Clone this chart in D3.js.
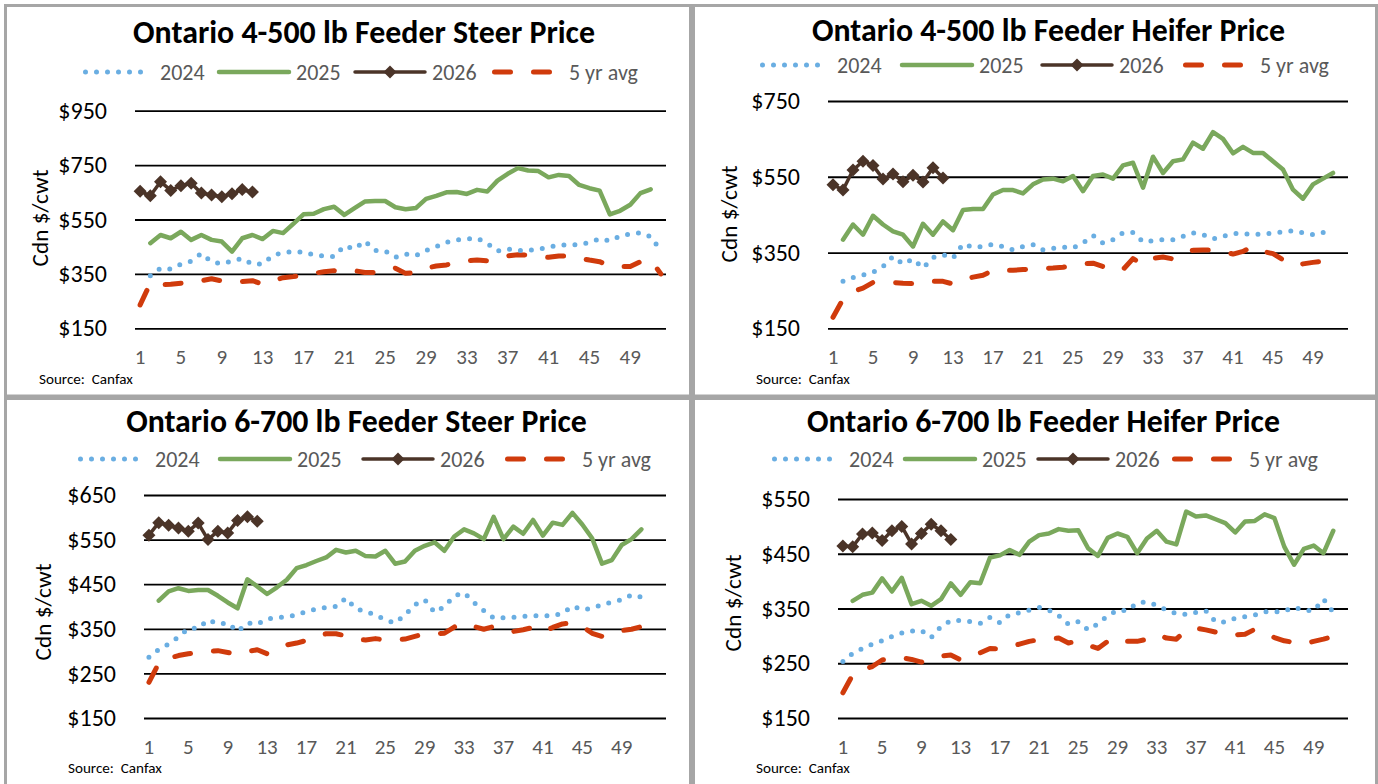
<!DOCTYPE html>
<html>
<head>
<meta charset="utf-8" />
<title>Ontario feeder cattle prices</title>
<style>
html, body {
    margin: 0;
    padding: 0;
    background: #fff;
}
svg text {
    font-family: Carlito, Calibri, Lato, "Open Sans", sans-serif;
}
</style>
</head>
<body>
<div id="chart"></div>

<script src="https://cdnjs.cloudflare.com/ajax/libs/d3/7.8.5/d3.min.js"></script>
<script>
// week categories and tick labels
var weeks52 = d3.range(1, 53)
var weeks53 = d3.range(1, 54)
var xTickLabels = [1, 5, 9, 13, 17, 21, 25, 29, 33, 37, 41, 45, 49]
var seriesNames = ["2024", "2025", "2026", "5 yr avg"]

// Ontario 4-500 lb feeder steer
var yTicksSteer45 = [150, 350, 550, 750, 950]
var steer45_2024 = [null, 343,371,368,386,397,425,394,388,397,407,386,387,418,428,432,430,420,416,414,453,442,471,436,434,411,423,417,436,450,466,475,478,481,462,434,442,436,436,441,448,456,457,458,465,479,471,489,497,501,487,436]
var steer45_2025 = [null, 463,493,481,505,475,493,475,469,432,481,493,478,508,500,534,569,571,588,597,567,592,616,618,618,595,588,592,626,637,650,651,644,659,653,693,718,739,730,728,705,714,710,677,665,656,569,582,604,647,661, null]
var steer45_2026 = [654,637,689,657,674,683,647,640,634,645,660,651]
var steer45_avg = [236,316,310,312,316,319,325,332,324,322,322,325,312,325,336,340,346,352,358,362,358,362,355,355,357,371,352,355,371,379,383,392,398,401,398,408,416,420,419,414,411,416,416,408,401,395,379,377,377,395,401,350]

// Ontario 4-500 lb feeder heifer
var yTicksHeifer45 = [150, 350, 550, 750]
var heifer45_2024 = [null, 274,284,291,298,313,340,320,333,309,337,344,335,373,364,366,372,366,357,366,371,357,361,364,362,375,395,375,384,402,403,378,381,384,384,393,402,397,386,393,400,400,398,399,401,405,407,402,397,403,399, null]
var heifer45_2025 = [null, 384,424,397,447,424,406,397,366,426,397,432,409,462,465,465,503,515,515,506,530,543,545,538,552,512,552,556,545,580,587,521,603,560,591,596,640,624,668,650,612,629,613,613,591,569,516,492,530,545,560, null]
var heifer45_2026 = [529,515,568,591,580,544,557,537,554,536,574,547]
var heifer45_avg = [179,227,247,256,271,271,271,269,268,269,274,274,267,278,285,290,303,303,303,305,307,308,309,311,316,320,322,313,303,305,334,318,335,338,333,347,356,357,356,353,346,353,366,353,347,331,316,320,324,327,315, null]

// Ontario 6-700 lb feeder steer
var yTicksSteer67 = [150, 250, 350, 450, 550, 650]
var steer67_2024 = [286,304,316,332,351,351,370,361,363,344,363,360,372,375,377,381,389,394,398,400,419,395,389,381,370,363,381,404,415,387,400,424,431,409,391,374,375,376,378,379,379,379,385,401,393,396,404,410,415,426,421]
var steer67_2025 = [null, 413,434,441,435,437,437,424,409,396,461,445,428,443,460,486,493,502,510,527,521,525,513,512,525,496,501,525,536,544,525,557,573,564,551,601,551,579,563,594,559,588,583,610,584,553,496,504,538,551,573]
var steer67_2026 = [560,588,582,576,569,587,550,569,565,593,601,591]
var steer67_avg = [230,273,284,290,294,297,299,301,297,293,299,303,294,304,314,318,324,333,339,339,334,327,325,328,325,325,327,333,339,339,340,354,363,355,349,355,348,344,348,353,343,353,361,363,355,340,333,339,346,349,355,316]

// Ontario 6-700 lb feeder heifer
var yTicksHeifer67 = [150, 250, 350, 450, 550]
var heifer67_2024 = [253,268,277,285,291,299,305,309,310,297,317,328,328,326,323,334,324,339,342,347,352,347,337,321,326,311,322,337,347,346,360,362,356,347,341,339,343,346,326,325,332,335,338,344,344,345,352,347,346,367,343]
var heifer67_2025 = [null, 364,375,379,405,381,406,358,364,355,367,396,375,398,396,443,447,457,448,472,484,487,495,492,493,460,446,479,487,481,451,478,492,472,467,527,518,520,513,506,489,509,510,522,515,463,430,459,465,451,492]
var heifer67_2026 = [464,463,486,488,474,492,500,468,487,504,492,476]
var heifer67_avg = [196,229,238,244,256,259,260,257,252,258,263,265,256,262,269,277,276,280,285,290,293,294,296,287,291,283,277,290,297,290,290,294,303,296,294,311,314,311,307,301,302,303,312,305,297,291,288,285,290,294,299,279]

var colors = { y2024: "#6aaee2", y2025: "#7aa85c", y2026: "#4b3428", avg: "#d03b0c" }

var panels = [
    { title: "Ontario 4-500 lb Feeder Steer Price", cats: weeks52, yTicks: yTicksSteer45,
      series: [steer45_2024, steer45_2025, steer45_2026, steer45_avg],
      box: [5.5, 5.5, 685, 390.5], plot: { x0: 135, x1: 666, top: 110.7, bottom: 328.3 },
      titleX: 364, titleY: 43, titleW: 462, legendX: 83, legendY: 72, legendSteps: [0, 136, 272, 409],
      yTitleX: 40, yTitleY: 218, sourceX: 39, sourceY: 384 },
    { title: "Ontario 4-500 lb Feeder Heifer Price", cats: weeks52, yTicks: yTicksHeifer45,
      series: [heifer45_2024, heifer45_2025, heifer45_2026, heifer45_avg],
      box: [693.5, 5.5, 683, 390.5], plot: { x0: 828, x1: 1348, top: 101, bottom: 328.3 },
      titleX: 1048.5, titleY: 41, titleW: 473, legendX: 760, legendY: 65, legendSteps: [0, 142, 282, 423],
      yTitleX: 729, yTitleY: 214, sourceX: 756, sourceY: 384 },
    { title: "Ontario 6-700 lb Feeder Steer Price", cats: weeks53, yTicks: yTicksSteer67,
      series: [steer67_2024, steer67_2025, steer67_2026, steer67_avg],
      box: [5.5, 398.5, 685, 400], plot: { x0: 144, x1: 666, top: 495, bottom: 718 },
      titleX: 356.5, titleY: 432, titleW: 461, legendX: 78, legendY: 459, legendSteps: [0, 142, 285, 427],
      yTitleX: 43, yTitleY: 612, sourceX: 68, sourceY: 773 },
    { title: "Ontario 6-700 lb Feeder Heifer Price", cats: weeks52, yTicks: yTicksHeifer67,
      series: [heifer67_2024, heifer67_2025, heifer67_2026, heifer67_avg],
      box: [693.5, 398.5, 683, 400], plot: { x0: 838, x1: 1348, top: 499, bottom: 718 },
      titleX: 1043.5, titleY: 432, titleW: 473, legendX: 772, legendY: 459, legendSteps: [0, 133, 266, 400],
      yTitleX: 733, yTitleY: 603, sourceX: 756, sourceY: 773 }
]

var seriesStyle = [
    { color: colors.y2024, width: 5, dash: "0 11", cap: "round", legendLen: 65 },
    { color: colors.y2025, width: 4.5, dash: null, cap: "round", legendLen: 70 },
    { color: colors.y2026, width: 3.5, dash: null, cap: "round", legendLen: 70, marker: true },
    { color: colors.avg, width: 5, dash: "16 23", cap: "round", legendLen: 63 }
]
// 5 yr avg first, then 2024, 2025, 2026 on top
var drawOrder = [3, 0, 1, 2]

var svg = d3.select("#chart").append("svg")
    .attr("width", 1378)
    .attr("height", 784)

function diamond(r) {
    return "M0," + (-r) + "L" + r + ",0L0," + r + "L" + (-r) + ",0Z"
}

function fitWidth(text, size, target) {
    text.style("font-size", size + "px")
    var len = text.node().getComputedTextLength()
    text.style("font-size", (size * target / len) + "px")
}

panels.forEach(function(p) {
    var g = svg.append("g")

    g.append("rect")
        .attr("x", p.box[0]).attr("y", p.box[1])
        .attr("width", p.box[2]).attr("height", p.box[3])
        .attr("fill", "#fff")
        .attr("stroke", "#a6a6a6")
        .attr("stroke-width", 3)

    var x = d3.scaleBand().domain(p.cats).range([p.plot.x0, p.plot.x1])
    var y = d3.scaleLinear()
        .domain([p.yTicks[0], p.yTicks[p.yTicks.length - 1]])
        .range([p.plot.bottom, p.plot.top])

    // gridlines + y labels
    var yAxis = g.append("g")
        .attr("transform", "translate(" + p.plot.x0 + ",0)")
        .call(d3.axisLeft(y)
            .tickValues(p.yTicks)
            .tickSize(-(p.plot.x1 - p.plot.x0))
            .tickPadding(28)
            .tickFormat(function(d) { return "$" + d }))
    yAxis.attr("font-family", null).attr("font-size", null)
    yAxis.select(".domain").remove()
    yAxis.selectAll("line").attr("stroke", "#000").attr("stroke-width", 1.8)
    yAxis.selectAll("text")
        .attr("fill", "#000")
        .style("font-size", "24px")

    var xAxis = g.append("g")
        .attr("transform", "translate(0," + p.plot.bottom + ")")
        .call(d3.axisBottom(x).tickValues(xTickLabels).tickSize(0).tickPadding(21))
    xAxis.attr("font-family", null).attr("font-size", null)
    xAxis.select(".domain").remove()
    xAxis.selectAll("text")
        .attr("fill", "#595959")
        .style("font-size", "21px")

    var line = d3.line()
        .defined(function(d) { return d != null })
        .x(function(d, i) { return x(p.cats[i]) + x.bandwidth() / 2 })
        .y(function(d) { return y(d) });

    drawOrder.forEach(function(k) {
        var st = seriesStyle[k]
        var data = p.series[k]
        g.append("path")
            .datum(data)
            .attr("d", line)
            .attr("fill", "none")
            .attr("stroke", st.color)
            .attr("stroke-width", st.width)
            .attr("stroke-linecap", st.cap)
            .attr("stroke-linejoin", "round")
            .attr("stroke-dasharray", st.dash)
        if (st.marker) {
            g.selectAll(null)
                .data(data)
                .enter().append("path")
                .attr("d", diamond(6.5))
                .attr("transform", function(d, i) {
                    return "translate(" + (x(p.cats[i]) + x.bandwidth() / 2) + "," + y(d) + ")"
                })
                .attr("fill", st.color)
        }
    })

    // title
    var title = g.append("text")
        .attr("x", p.titleX).attr("y", p.titleY)
        .attr("text-anchor", "middle")
        .style("font-weight", "bold")
        .attr("fill", "#000")
        .text(p.title)
    fitWidth(title, 28, p.titleW)

    // legend
    seriesNames.forEach(function(name, k) {
        var st = seriesStyle[k]
        var lx = p.legendX + p.legendSteps[k]
        g.append("line")
            .attr("x1", lx + (st.dash ? 2.5 : 0)).attr("x2", lx + st.legendLen)
            .attr("y1", p.legendY).attr("y2", p.legendY)
            .attr("stroke", st.color)
            .attr("stroke-width", st.width)
            .attr("stroke-linecap", st.cap)
            .attr("stroke-dasharray", st.dash)
        if (st.marker) {
            g.append("path")
                .attr("d", diamond(6.5))
                .attr("transform", "translate(" + (lx + st.legendLen / 2) + "," + p.legendY + ")")
                .attr("fill", st.color)
        }
        g.append("text")
            .attr("x", lx + 77).attr("y", p.legendY)
            .attr("dy", "0.35em")
            .attr("fill", "#595959")
            .style("font-size", "22px")
            .text(name)
    })

    // y axis title
    var yTitle = g.append("text")
        .attr("transform", "translate(" + p.yTitleX + "," + p.yTitleY + ") rotate(-90)")
        .attr("text-anchor", "middle")
        .attr("dy", "0.35em")
        .attr("fill", "#000")
        .text("Cdn $/cwt")
    fitWidth(yTitle, 22, 97)

    var src = g.append("text")
        .attr("x", p.sourceX).attr("y", p.sourceY)
        .attr("fill", "#000")
        .style("white-space", "pre")
        .text("Source:  Canfax")
    fitWidth(src, 14, 94)
})
</script>
</body>
</html>
